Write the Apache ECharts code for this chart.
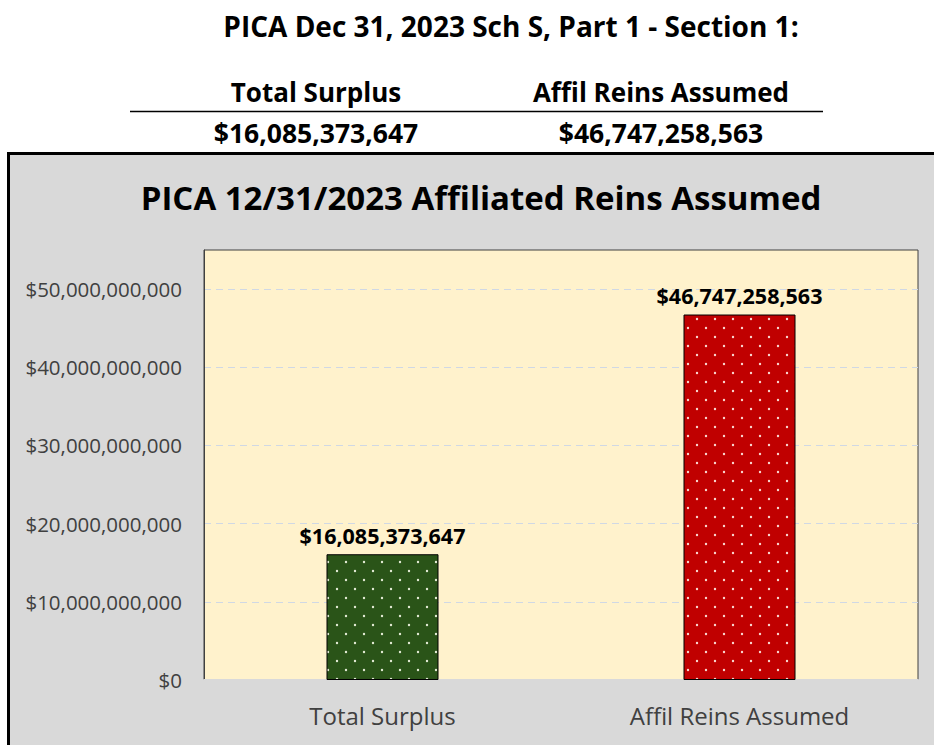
<!DOCTYPE html>
<html>
<head>
<meta charset="utf-8">
<script src="https://cdn.jsdelivr.net/npm/echarts@6/dist/echarts.min.js"></script>
<style>
html,body{margin:0;padding:0;background:#fff;}
#chart{width:934px;height:745px;}
</style>
</head>
<body>
<div id="chart"></div>
<script>
// ---- data ----
const pageTitle = 'PICA Dec 31, 2023 Sch S, Part 1 - Section 1:';
const chartTitle = 'PICA 12/31/2023 Affiliated Reins Assumed';
const categories = ['Total Surplus', 'Affil Reins Assumed'];
const values = [16085373647, 46747258563];
const barColors = ['#2A5418', '#C00000'];
const dotColors = ['#e3ebd6', '#f8d8d0'];
const yMin = 0;
const yMax = 55000000000;
const yInterval = 10000000000;

function money(v) {
  return '$' + Math.round(v).toString().replace(/\B(?=(\d{3})+(?!\d))/g, ',');
}
function makePattern(bg, dot) {
  const c = document.createElement('canvas');
  c.width = 18; c.height = 18;
  const g = c.getContext('2d');
  g.fillStyle = bg; g.fillRect(0, 0, 18, 18);
  g.fillStyle = dot;
  [[4, 4], [13, 13]].forEach(p => { g.beginPath(); g.arc(p[0], p[1], 1.2, 0, Math.PI * 2); g.fill(); });
  return c;
}

const FONT = '"Open Sans", "Noto Sans", sans-serif';
const chart = echarts.init(document.getElementById('chart'), null, {renderer: 'svg'});

const headerX = [316, 661];
const graphics = [
  {type: 'rect', z: -10, shape: {x: 8.5, y: 153.5, width: 940, height: 620}, style: {fill: '#D9D9D9', stroke: '#000', lineWidth: 3}},
  {type: 'text', style: {x: 511, y: 26, text: pageTitle, textAlign: 'center', textVerticalAlign: 'middle', font: 'bold 28px ' + FONT, fill: '#000'}},
  {type: 'line', shape: {x1: 130, y1: 111.5, x2: 823, y2: 111.5}, style: {stroke: '#000', lineWidth: 1.5}}
];
categories.forEach((c, i) => {
  graphics.push({type: 'text', style: {x: headerX[i], y: 92, text: c, textAlign: 'center', textVerticalAlign: 'middle', font: 'bold 26px ' + FONT, fill: '#000'}});
  graphics.push({type: 'text', style: {x: headerX[i], y: 133, text: money(values[i]), textAlign: 'center', textVerticalAlign: 'middle', font: 'bold 26.5px ' + FONT, fill: '#000'}});
});

chart.setOption({
  animation: false,
  backgroundColor: '#fff',
  title: {
    text: chartTitle, left: 476, top: 176, textAlign: 'center',
    textStyle: {fontFamily: FONT, fontWeight: 'bold', fontSize: 33, color: '#000'}
  },
  graphic: graphics,
  grid: {left: 204, right: 16, top: 250, bottom: 65, show: true, backgroundColor: '#FFF2CC', borderColor: '#404040', borderWidth: 1},
  xAxis: {
    type: 'category', data: categories,
    axisLine: {show: true, lineStyle: {color: '#D9D9D9', width: 2}},
    axisTick: {show: false},
    axisLabel: {color: '#404040', fontFamily: FONT, fontSize: 24, margin: 23}
  },
  yAxis: {
    type: 'value', min: yMin, max: yMax, interval: yInterval,
    axisLine: {show: true, lineStyle: {color: '#404040'}},
    axisTick: {show: false},
    splitLine: {showMaxLine: false, lineStyle: {color: '#D0D8E4', type: [7, 5]}},
    axisLabel: {color: '#404040', fontFamily: FONT, fontSize: 20.5, margin: 22, showMaxLabel: false, formatter: v => money(v)}
  },
  series: [{
    type: 'bar', barWidth: 112,
    data: values.map((v, i) => ({
      value: v,
      itemStyle: {color: {image: makePattern(barColors[i], dotColors[i]), repeat: 'repeat'}, borderColor: '#000', borderWidth: 1}
    })),
    label: {show: true, position: 'top', distance: 8, formatter: p => money(p.value), fontFamily: FONT, fontWeight: 'bold', fontSize: 21.5, color: '#000'}
  }]
});
</script>
</body>
</html>
